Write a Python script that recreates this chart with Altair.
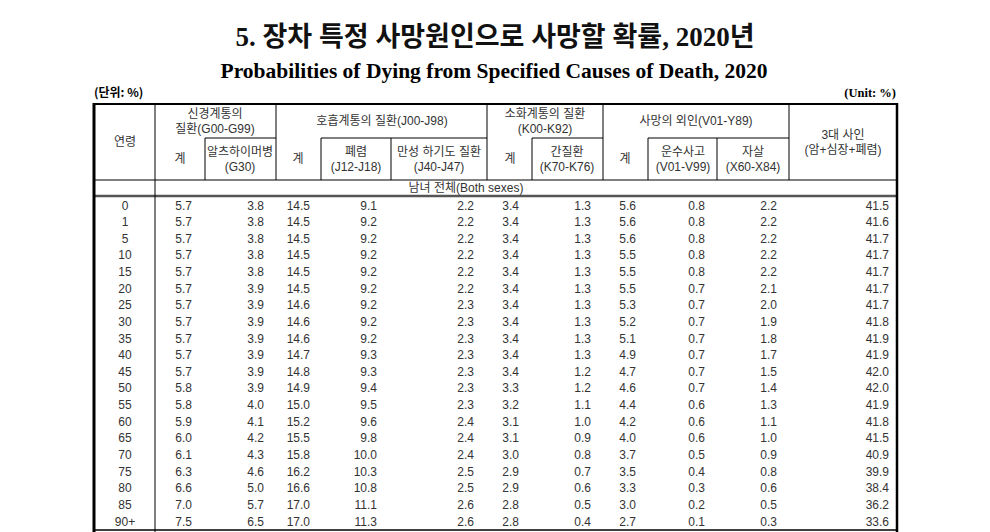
import altair as alt
import pandas as pd

# ---------------- data ----------------
ages = ["0", "1", "5", "10", "15", "20", "25", "30", "35", "40", "45",
        "50", "55", "60", "65", "70", "75", "80", "85", "90+"]

neuro_total = [5.7, 5.7, 5.7, 5.7, 5.7, 5.7, 5.7, 5.7, 5.7, 5.7, 5.7,
               5.8, 5.8, 5.9, 6.0, 6.1, 6.3, 6.6, 7.0, 7.5]
alzheimer = [3.8, 3.8, 3.8, 3.8, 3.8, 3.9, 3.9, 3.9, 3.9, 3.9, 3.9,
             3.9, 4.0, 4.1, 4.2, 4.3, 4.6, 5.0, 5.7, 6.5]
resp_total = [14.5, 14.5, 14.5, 14.5, 14.5, 14.5, 14.6, 14.6, 14.6, 14.7, 14.8,
              14.9, 15.0, 15.2, 15.5, 15.8, 16.2, 16.6, 17.0, 17.0]
pneumonia = [9.1, 9.2, 9.2, 9.2, 9.2, 9.2, 9.2, 9.2, 9.2, 9.3, 9.3,
             9.4, 9.5, 9.6, 9.8, 10.0, 10.3, 10.8, 11.1, 11.3]
chronic_lower = [2.2, 2.2, 2.2, 2.2, 2.2, 2.2, 2.3, 2.3, 2.3, 2.3, 2.3,
                 2.3, 2.3, 2.4, 2.4, 2.4, 2.5, 2.5, 2.6, 2.6]
digest_total = [3.4, 3.4, 3.4, 3.4, 3.4, 3.4, 3.4, 3.4, 3.4, 3.4, 3.4,
                3.3, 3.2, 3.1, 3.1, 3.0, 2.9, 2.9, 2.8, 2.8]
liver = [1.3, 1.3, 1.3, 1.3, 1.3, 1.3, 1.3, 1.3, 1.3, 1.3, 1.2,
         1.2, 1.1, 1.0, 0.9, 0.8, 0.7, 0.6, 0.5, 0.4]
external_total = [5.6, 5.6, 5.6, 5.5, 5.5, 5.5, 5.3, 5.2, 5.1, 4.9, 4.7,
                  4.6, 4.4, 4.2, 4.0, 3.7, 3.5, 3.3, 3.0, 2.7]
transport = [0.8, 0.8, 0.8, 0.8, 0.8, 0.7, 0.7, 0.7, 0.7, 0.7, 0.7,
             0.7, 0.6, 0.6, 0.6, 0.5, 0.4, 0.3, 0.2, 0.1]
suicide = [2.2, 2.2, 2.2, 2.2, 2.2, 2.1, 2.0, 1.9, 1.8, 1.7, 1.5,
           1.4, 1.3, 1.1, 1.0, 0.9, 0.8, 0.6, 0.5, 0.3]
top3 = [41.5, 41.6, 41.7, 41.7, 41.7, 41.7, 41.7, 41.8, 41.9, 41.9, 42.0,
        42.0, 41.9, 41.8, 41.5, 40.9, 39.9, 38.4, 36.2, 33.6]

series = [neuro_total, alzheimer, resp_total, pneumonia, chronic_lower,
          digest_total, liver, external_total, transport, suicide, top3]

title_ko = "5. 장차 특정 사망원인으로 사망할 확률, 2020년"
title_en = "Probabilities of Dying from Specified Causes of Death, 2020"
unit_ko = "(단위: %)"
unit_en = "(Unit: %)"
section = "남녀 전체(Both sexes)"

# ---------------- layout (page pixels) ----------------
W, H = 974, 524
OX, OY = 8, 8
col_right = [192, 264, 310, 377, 474, 519, 591, 636, 705, 777, 889]
age_x = 125
row_top, row_bottom = 205.5, 521.5

xs = alt.Scale(domain=[OX, OX + W], range=[0, W])
ys = alt.Scale(domain=[OY, OY + H], range=[0, H])
yrow = alt.Scale(type="point", domain=ages, range=[row_top - OY, row_bottom - OY], padding=0)

SANS = "Liberation Sans, Noto Sans CJK KR, sans-serif"
KR = "Noto Sans CJK KR, sans-serif"
TXT = "#333333"

# cells
recs = []
for ci, vals in enumerate(series):
    for a, v in zip(ages, vals):
        recs.append({"age": a, "x": col_right[ci], "label": f"{v:.1f}"})
cells = pd.DataFrame(recs)
age_df = pd.DataFrame({"age": ages, "x": [age_x] * len(ages)})

cell_layer = alt.Chart(cells).mark_text(
    align="right", baseline="middle", font=SANS, fontSize=12, color=TXT
).encode(
    x=alt.X("x:Q", scale=xs, axis=None),
    y=alt.Y("age:O", scale=yrow, axis=None),
    text="label:N",
)
age_layer = alt.Chart(age_df).mark_text(
    align="center", baseline="middle", font=SANS, fontSize=12, color=TXT
).encode(
    x=alt.X("x:Q", scale=xs, axis=None),
    y=alt.Y("age:O", scale=yrow, axis=None),
    text="age:N",
)

# header texts
hdr = pd.DataFrame([
    ("연령", 125, 142),
    ("신경계통의", 215, 114), ("질환(G00-G99)", 215, 129),
    ("계", 180, 159),
    ("알츠하이머병", 240, 152), ("(G30)", 240, 167),
    ("호흡계통의 질환(J00-J98)", 382, 121),
    ("계", 298, 159),
    ("폐렴", 356, 152), ("(J12-J18)", 356, 167),
    ("만성 하기도 질환", 439, 152), ("(J40-J47)", 439, 167),
    ("소화계통의 질환", 545, 114), ("(K00-K92)", 545, 129),
    ("계", 510, 159),
    ("간질환", 567, 152), ("(K70-K76)", 567, 167),
    ("사망의 외인(V01-Y89)", 696, 121),
    ("계", 625, 159),
    ("운수사고", 683, 152), ("(V01-V99)", 683, 167),
    ("자살", 753, 152), ("(X60-X84)", 753, 167),
    ("3대 사인", 843, 135), ("(암+심장+폐렴)", 843, 150),
    (section, 466, 188),
], columns=["t", "x", "y"])

hdr_layer = alt.Chart(hdr).mark_text(
    align="center", baseline="middle", font=SANS, fontSize=12, color=TXT
).encode(
    x=alt.X("x:Q", scale=xs, axis=None),
    y=alt.Y("y:Q", scale=ys, axis=None),
    text="t:N",
)

def single_text(t, x, y, **kw):
    return alt.Chart(pd.DataFrame({"t": [t], "x": [x], "y": [y]})).mark_text(
        baseline="middle", **kw
    ).encode(
        x=alt.X("x:Q", scale=xs, axis=None),
        y=alt.Y("y:Q", scale=ys, axis=None),
        text="t:N",
    )

t1 = single_text(title_ko, 495, 38, align="center",
                 font="Liberation Serif, Noto Sans CJK KR, serif",
                 fontSize=27, fontWeight="bold", color="#111111")
t2 = single_text(title_en, 494, 72, align="center",
                 font="Liberation Serif, serif",
                 fontSize=21.5, fontWeight="bold", color="#000000")
u1 = single_text(unit_ko, 94, 93, align="left", font=KR,
                 fontSize=12, fontWeight="bold", color="#000000")
u2 = single_text(unit_en, 896, 93, align="right", font="Liberation Serif, serif",
                 fontSize=12.5, fontWeight="bold", color="#000000")

# grid lines
lines = pd.DataFrame([
    # horizontal
    (94, 897, 104, 104, 2.0, "#000000"),
    (205, 276, 138, 138, 1.0, "#000000"),
    (321, 487, 138, 138, 1.0, "#000000"),
    (532, 603, 138, 138, 1.0, "#000000"),
    (648, 789, 138, 138, 1.0, "#000000"),
    (94, 897, 180, 180, 1.0, "#000000"),
    (94, 897, 196, 196, 2.5, "#555555"),
    (94, 897, 530, 530, 1.5, "#000000"),
    # vertical
    (94, 94, 103, 532, 3.0, "#000000"),
    (897, 897, 103, 532, 2.5, "#000000"),
    (155, 155, 104, 532, 1.0, "#000000"),
    (205, 205, 138, 180, 1.0, "#000000"),
    (276, 276, 104, 180, 1.0, "#000000"),
    (321, 321, 138, 180, 1.0, "#000000"),
    (391, 391, 138, 180, 1.0, "#000000"),
    (487, 487, 104, 180, 1.0, "#000000"),
    (532, 532, 138, 180, 1.0, "#000000"),
    (603, 603, 104, 180, 1.0, "#000000"),
    (648, 648, 138, 180, 1.0, "#000000"),
    (717, 717, 138, 180, 1.0, "#000000"),
    (789, 789, 104, 180, 1.0, "#000000"),
], columns=["x", "x2", "y", "y2", "w", "c"])

rule_layer = alt.Chart(lines).mark_rule().encode(
    x=alt.X("x:Q", scale=xs, axis=None),
    x2="x2:Q",
    y=alt.Y("y:Q", scale=ys, axis=None),
    y2="y2:Q",
    strokeWidth=alt.StrokeWidth("w:Q", scale=None),
    color=alt.Color("c:N", scale=None),
)

chart = alt.layer(
    rule_layer, hdr_layer, t1, t2, u1, u2, cell_layer, age_layer
).resolve_scale(y="independent").properties(
    width=W, height=H, padding=0, autosize="none", background="#ffffff"
).configure_view(stroke="transparent", strokeWidth=0)

chart.save("out.html", embed_options={"renderer": "svg", "actions": False})
